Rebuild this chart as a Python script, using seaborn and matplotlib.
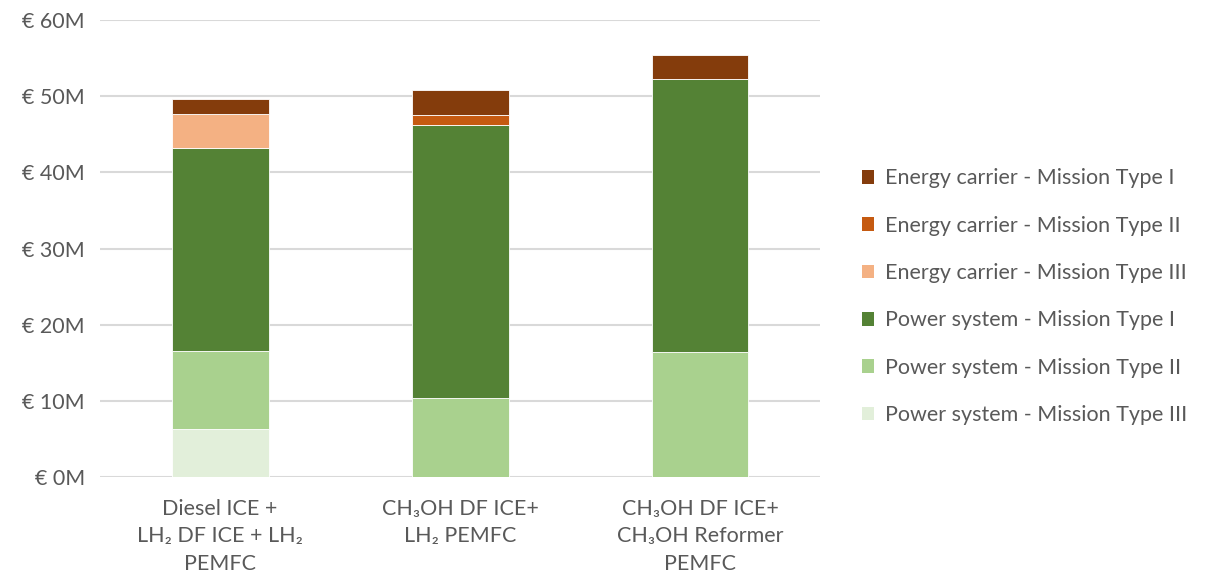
import matplotlib
matplotlib.use("Agg")
import matplotlib.pyplot as plt
from matplotlib.patches import Patch
import seaborn as sns
import pandas as pd

# Configurations on the x axis
configs = [
    "Diesel ICE +\nLH\u2082 DF ICE + LH\u2082\nPEMFC",
    "CH\u2083OH DF ICE+\nLH\u2082 PEMFC",
    "CH\u2083OH DF ICE+\nCH\u2083OH Reformer\nPEMFC",
]

# Cost components in million euro, listed from the bottom of each stack upward
power_type3 = [6.3, 0.0, 0.0]
power_type2 = [10.2, 10.4, 16.4]
power_type1 = [26.7, 35.85, 35.85]
energy_type3 = [4.5, 0.0, 0.0]
energy_type2 = [0.0, 1.3, 0.0]
energy_type1 = [1.9, 3.2, 3.2]

series_names = [
    "Power system - Mission Type III",
    "Power system - Mission Type II",
    "Power system - Mission Type I",
    "Energy carrier - Mission Type III",
    "Energy carrier - Mission Type II",
    "Energy carrier - Mission Type I",
]
series_values = [power_type3, power_type2, power_type1,
                 energy_type3, energy_type2, energy_type1]
series_colors = ["#E2EFDA", "#A9D18E", "#548235",
                 "#F4B183", "#C55A11", "#843C0C"]

ytick_values = [0, 10, 20, 30, 40, 50, 60]
ytick_labels = [f"\u20ac {v}M" for v in ytick_values]

sns.set_theme(style="white")
plt.rcParams["font.family"] = ["Lato", "DejaVu Sans"]

fig = plt.figure(figsize=(12.17, 5.82), dpi=100)
ax = fig.add_axes([0.0822, 0.1804, 0.5916, 0.7852])

text_color = "#595959"
grid_color = "#D9D9D9"
fs = 15.5

for y in ytick_values:
    ax.axhline(y, color=grid_color, linewidth=1.5, zorder=0)

bottom = [0.0] * len(configs)
for name, vals, col in zip(series_names, series_values, series_colors):
    df = pd.DataFrame({"config": configs, "value": vals})
    sns.barplot(data=df, x="config", y="value", order=configs,
                color=col, saturation=1, bottom=bottom, width=0.404, ax=ax,
                edgecolor="white", linewidth=0.6, zorder=2)
    bottom = [b + v for b, v in zip(bottom, vals)]

ax.set_xlim(-0.5, 2.5)
ax.set_ylim(0, 60)
ax.set_yticks(ytick_values)
ax.set_yticklabels(ytick_labels, fontsize=fs, color=text_color)
ax.set_xticks(range(len(configs)))
ax.set_xticklabels(configs, fontsize=fs, color=text_color, linespacing=1.45)
ax.tick_params(axis="both", length=0)
ax.tick_params(axis="x", pad=16)
ax.tick_params(axis="y", pad=11)
ax.set_xlabel("")
ax.set_ylabel("")
for s in ax.spines.values():
    s.set_visible(False)

handles = [Patch(facecolor=c, edgecolor="none", label=n)
           for n, c in zip(series_names, series_colors)][::-1]
fig.legend(handles=handles, loc="center left", bbox_to_anchor=(0.692, 0.49),
           frameon=False, fontsize=fs, labelcolor=text_color,
           handlelength=0.6, handleheight=0.6, handletextpad=0.5,
           labelspacing=1.27)

fig.savefig("out.png", dpi=100)
